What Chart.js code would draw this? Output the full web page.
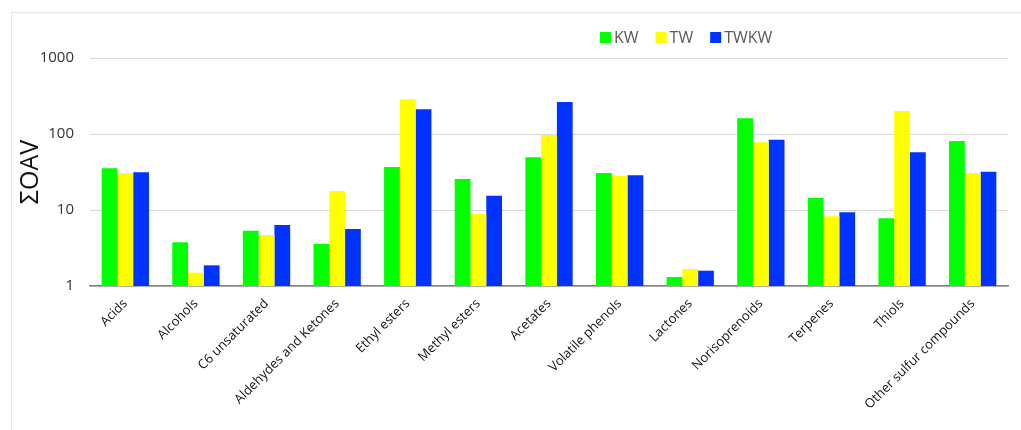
<!DOCTYPE html>
<html>
<head>
<meta charset="utf-8">
<script src="https://cdn.jsdelivr.net/npm/chart.js@4"></script>
<style>
  html, body { margin: 0; padding: 0; background: #fff; }
  #wrap { position: relative; width: 1021px; height: 430px; }
  #frame { position: absolute; left: 11px; top: 12px; right: 0; bottom: 0;
           border-top: 1px solid #e6e6e6; border-left: 1px solid #e6e6e6; }
  #myChart { position: absolute; left: 0; top: 0; }
</style>
</head>
<body>
<div id="wrap">
  <div id="frame"></div>
  <canvas id="myChart" width="1021" height="430"></canvas>
</div>
<script>
var groups = ['Acids', 'Alcohols', 'C6 unsaturated', 'Aldehydes and Ketones', 'Ethyl esters',
  'Methyl esters', 'Acetates', 'Volatile phenols', 'Lactones', 'Norisoprenoids',
  'Terpenes', 'Thiols', 'Other sulfur compounds'];
var KW = [35.4, 3.76, 5.34, 3.57, 36.8, 25.6, 49.3, 30.7, 1.31, 161, 14.4, 7.77, 80.9];
var TW = [30.4, 1.50, 4.69, 17.8, 286, 8.94, 97, 28.0, 1.67, 77.7, 8.26, 201, 30.7];
var TWKW = [31.3, 1.87, 6.35, 5.62, 211, 15.4, 264, 28.6, 1.59, 84.2, 9.33, 57.4, 31.9];
var yTicks = [1, 10, 100, 1000];

// simple legend drawn in the upper right, squares + labels
var squareLegend = {
  id: 'squareLegend',
  afterDraw: function(chart) {
    var c = chart.ctx;
    var x = 600, y = 38;
    c.save();
    c.font = '16px "Open Sans"';
    c.textBaseline = 'middle';
    chart.data.datasets.forEach(function(ds) {
      c.fillStyle = ds.backgroundColor;
      c.fillRect(x, y - 6, 11, 11);
      c.fillStyle = '#595959';
      c.fillText(ds.label, x + 14, y);
      x += 14 + c.measureText(ds.label).width + 17;
    });
    c.restore();
  }
};

var ctx = document.getElementById('myChart');
var myChart = new Chart(ctx, {
  type: 'bar',
  data: {
    labels: groups,
    datasets: [
      { label: 'KW', data: KW, backgroundColor: '#00ff00' },
      { label: 'TW', data: TW, backgroundColor: '#ffff00' },
      { label: 'TWKW', data: TWKW, backgroundColor: '#0033ff' }
    ]
  },
  options: {
    responsive: false,
    animation: false,
    layout: { padding: { left: 0, right: 13, top: 58, bottom: 0 } },
    datasets: { bar: { categoryPercentage: 0.67, barPercentage: 1.0 } },
    plugins: {
      legend: { display: false },
      tooltip: { enabled: false }
    },
    scales: {
      x: {
        grid: { display: false, drawTicks: false },
        border: { display: true, color: '#7f7f7f', width: 1.5 },
        ticks: {
          color: '#111',
          font: { family: 'Open Sans', size: 13 },
          minRotation: 45,
          maxRotation: 45,
          autoSkip: false,
          padding: 10
        },
        afterFit: function(scale) { scale.height = 144; }
      },
      y: {
        type: 'logarithmic',
        min: 1,
        max: 1000,
        afterBuildTicks: function(scale) {
          scale.ticks = yTicks.map(function(v) { return { value: v }; });
        },
        grid: { color: '#d9d9d9', drawTicks: false },
        border: { display: false },
        ticks: {
          color: '#333',
          font: { family: 'Open Sans', size: 15 },
          padding: 16,
          callback: function(v) { return String(v); }
        },
        title: {
          display: true,
          text: 'ΣOAV',
          color: '#111',
          font: { family: 'Open Sans', size: 25 },
          padding: { top: 16, bottom: 0 }
        },
        afterFit: function(scale) { scale.width = 90; }
      }
    }
  },
  plugins: [squareLegend]
});
</script>
</body>
</html>
